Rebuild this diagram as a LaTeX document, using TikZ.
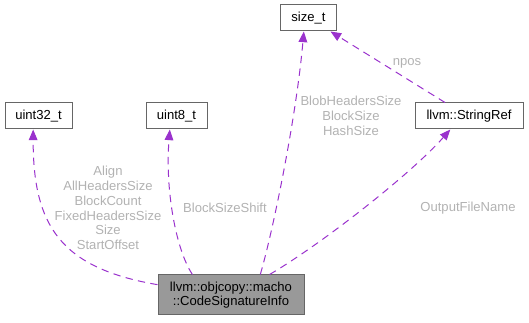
\documentclass[tikz,border=0pt]{standalone}
\usepackage{fontspec}
\setmainfont{Liberation Sans}
\definecolor{edgepurple}{RGB}{154, 50, 205}
\definecolor{boxgray}{RGB}{102, 102, 102}
\definecolor{labelgray}{RGB}{178, 178, 178}
\usetikzlibrary{arrows.meta, positioning}

\begin{document}
\begin{tikzpicture}[x=0.75pt, y=-0.75pt,
  cls/.style={draw=boxgray, fill=white, minimum height=19.5pt, inner sep=0pt,
              line width=0.75pt, font=\fontsize{9.8}{9}\selectfont},
  member/.style={draw=edgepurple, line width=0.75pt, dashed, dash pattern=on 5.5pt off 4pt,
                 -{Triangle[length=8pt, width=6.5pt]}, fill=none},
  lbl/.style={text=labelgray, font=\fontsize{9.8}{11.1}\selectfont, align=center},
]
\useasboundingbox (0,0) rectangle (529,323);

% referenced types
\node[cls, minimum width=42pt] (st) at (308.5, 18) {size\_t};
\node[cls, minimum width=81pt] (sr) at (469, 116) {llvm::StringRef};
\node[cls, minimum width=50.25pt] (u32) at (38.5, 116) {uint32\_t};
\node[cls, minimum width=45.75pt] (u8) at (176.5, 116) {uint8\_t};

% the struct itself
\node[cls, fill=black!40, minimum width=109.5pt, minimum height=30pt, align=center,
      font=\fontsize{9.8}{8.8}\selectfont] (csi) at (231, 295)
      {llvm::objcopy::macho\\::CodeSignatureInfo};

% member edges
\draw[member] (csi.172) .. controls (60,268) and (33,225) .. ([xshift=-4pt]u32.south);
\draw[member] (csi.152) .. controls (176,250) and (165,190) .. ([xshift=-5pt]u8.south);
\draw[member] (csi.35) .. controls (272,235) and (296,120) .. ([xshift=-3.5pt]st.south);
\draw[member] (csi.28) .. controls (320,245) and (410,175) .. ([xshift=-14pt]sr.south);
\draw[member] ([xshift=-18pt]sr.north) -- ([xshift=16.5pt]st.south);

% member names
\node[lbl] (l32) at (108, 208) {Align\\AllHeadersSize\\BlockCount\\FixedHeadersSize\\Size\\StartOffset};
\node[lbl] (l8) at (225, 208) {BlockSizeShift};
\node[lbl] (lst) at (351, 116) {BlobHeadersSize\\BlockSize\\HashSize};
\node[lbl] (lsr) at (468, 208) {OutputFileName};
\node[lbl] (lnpos) at (407, 63) {npos};
\end{tikzpicture}
\end{document}
